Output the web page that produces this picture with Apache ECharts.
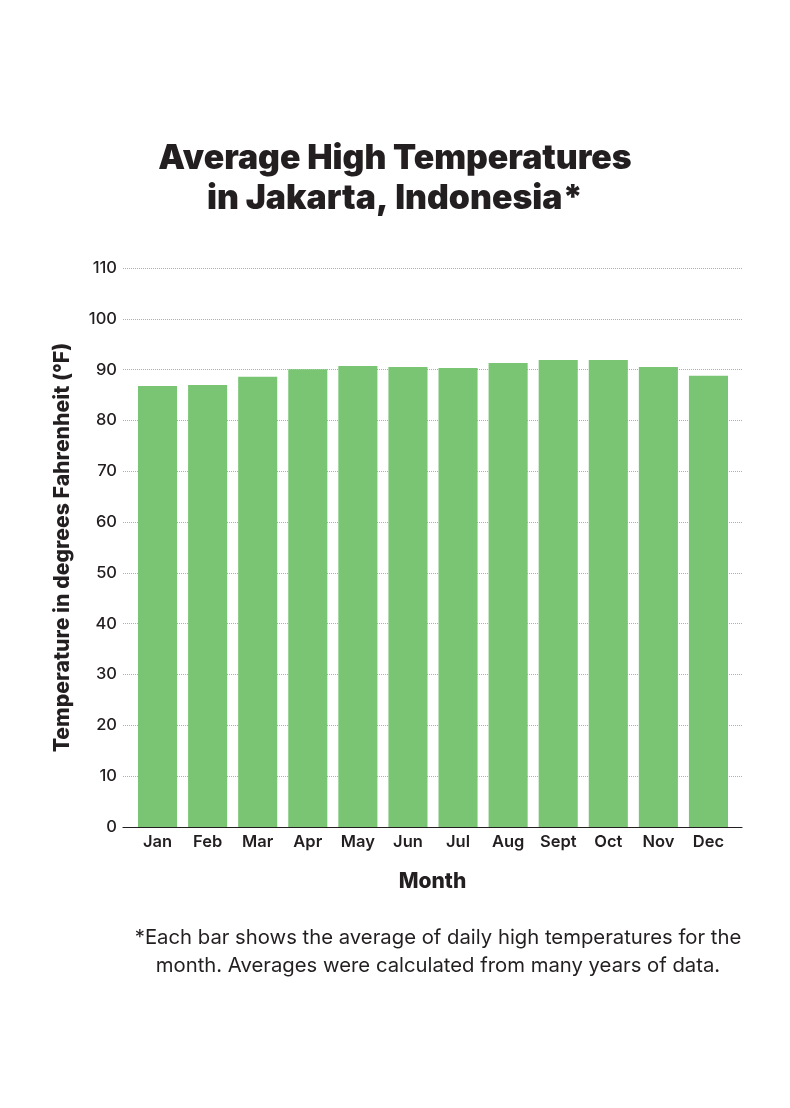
<!DOCTYPE html>
<html>
<head>
<meta charset="utf-8">
<script src="https://cdn.jsdelivr.net/npm/echarts@6/dist/echarts.min.js"></script>
<style>
  html, body { margin: 0; padding: 0; background: #fff; }
  #chart { width: 790px; height: 1108px; }
</style>
</head>
<body>
<div id="chart"></div>
<script>
// month labels and average highs (°F)
var months = ['Jan', 'Feb', 'Mar', 'Apr', 'May', 'Jun', 'Jul', 'Aug', 'Sept', 'Oct', 'Nov', 'Dec'];
var avgHigh = [86.8, 87.0, 88.6, 90.1, 90.7, 90.5, 90.3, 91.3, 91.9, 91.9, 90.5, 88.8];

var ink = '#231f20';
var chart = echarts.init(document.getElementById('chart'));

var option = {
    backgroundColor: '#fff',
    title: [
        {
            text: 'Average High Temperatures\nin Jakarta, Indonesia*',
            left: 'center',
            top: 134,
            textStyle: {
                fontFamily: 'Inter',
                fontWeight: 900,
                fontSize: 33.8,
                lineHeight: 40,
                color: ink
            }
        },
        {
            text: '*Each bar shows the average of daily high temperatures for the\nmonth. Averages were calculated from many years of data.',
            left: 433,
            top: 919,
            textAlign: 'center',
            textStyle: {
                fontFamily: 'Inter',
                fontWeight: 400,
                fontSize: 20.3,
                lineHeight: 28,
                color: ink
            }
        }
    ],
    // grid 0 holds the frame (gridlines, axis line); grid 1 holds the bars, inset a little
    grid: [
        { left: 123, right: 48, top: 268, bottom: 281 },
        { left: 132.5, right: 56.5, top: 268, bottom: 281 }
    ],
    xAxis: [
        {
            type: 'category',
            gridIndex: 0,
            data: [''],
            name: 'Month',
            nameLocation: 'middle',
            nameGap: 44,
            nameTextStyle: {
                fontFamily: 'Inter',
                fontWeight: 800,
                fontSize: 21,
                color: ink
            },
            axisLine: { lineStyle: { color: ink, width: 1.2 } },
            axisTick: { show: false },
            axisLabel: { show: false }
        },
        {
            type: 'category',
            gridIndex: 1,
            data: months,
            axisLine: { show: false },
            axisTick: { show: false },
            axisLabel: {
                fontFamily: 'Inter',
                fontWeight: 600,
                fontSize: 16.5,
                color: ink,
                margin: 7,
                interval: 0
            }
        }
    ],
    yAxis: [
        {
            type: 'value',
            gridIndex: 0,
            min: 0,
            max: 110,
            interval: 10,
            name: 'Temperature in degrees Fahrenheit (°F)',
            nameLocation: 'middle',
            nameGap: 50,
            nameTextStyle: {
                fontFamily: 'Inter',
                fontWeight: 800,
                fontSize: 21.2,
                color: ink
            },
            axisLine: { show: false },
            axisTick: { show: false },
            axisLabel: {
                fontFamily: 'Inter',
                fontWeight: 500,
                fontSize: 16.5,
                color: ink,
                margin: 6
            },
            splitLine: {
                lineStyle: { color: '#9a9a9a', type: [1, 1], width: 0.8 }
            }
        },
        {
            type: 'value',
            gridIndex: 1,
            min: 0,
            max: 110,
            interval: 10,
            show: false,
            splitLine: { show: false }
        }
    ],
    series: [
        {
            name: 'Average High',
            type: 'bar',
            xAxisIndex: 1,
            yAxisIndex: 1,
            data: avgHigh,
            barCategoryGap: '22%',
            itemStyle: { color: '#79c573' }
        }
    ]
};

chart.setOption(option);
</script>
</body>
</html>
